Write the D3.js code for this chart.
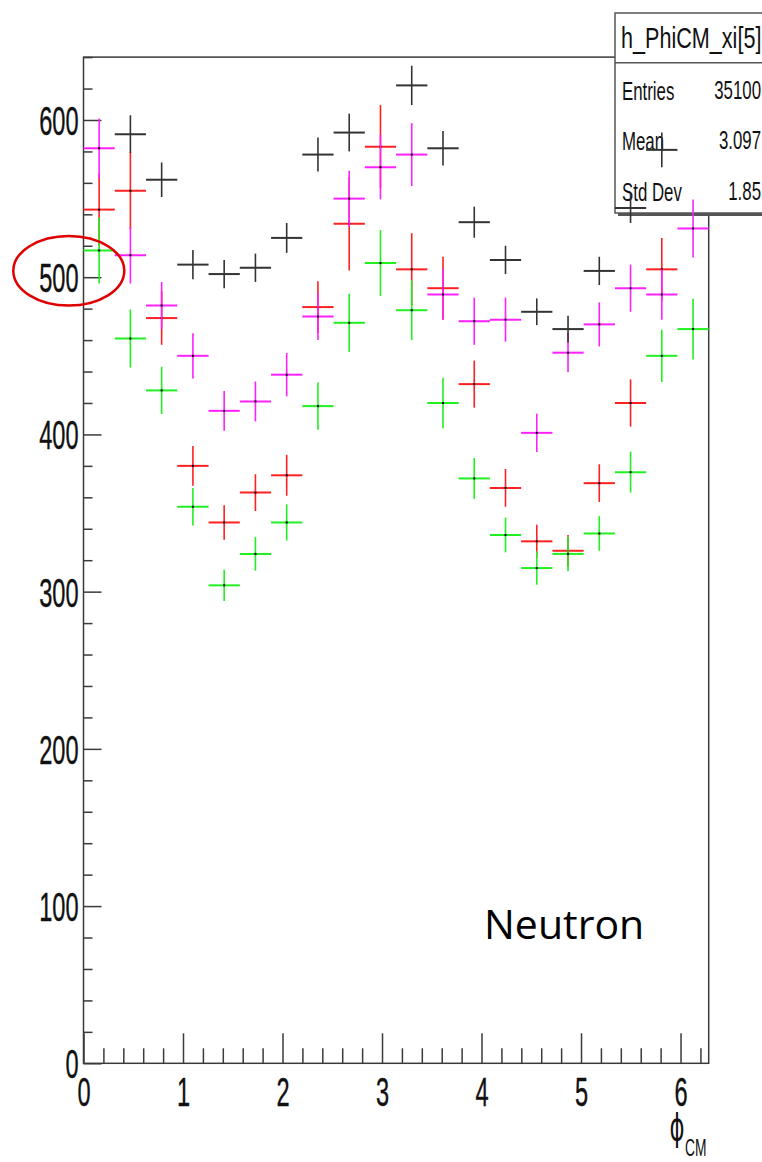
<!DOCTYPE html>
<html>
<head>
<meta charset="utf-8">
<script src="https://cdn.jsdelivr.net/npm/d3@7"></script>
<style>
body { margin: 0; background: #fff; }
</style>
</head>
<body>
<svg width="762" height="1162"></svg>
<script>
// histogram h_PhiCM_xi[5], 20 bins over 0..2pi
var nBins = 20
var phiMax = 2 * Math.PI
var xTicks = [0, 1, 2, 3, 4, 5, 6]
var yTicks = [0, 100, 200, 300, 400, 500, 600]

// bin contents and errors (null = not visible)
var blackVals = [null, 591, 562, 508, 502, 506, 525, 578, 592, null, 622, 582, 535, 511, 478, 467, 504, 544, 581, null]
var blackErr  = [null, 12, 11, 9.3, 9, 9, 9.5, 10.8, 12, null, 12.5, 11, 9.9, 9, 8.5, 8.5, 9, 9.5, 11, null]
var redVals   = [543, 555, 474, 380, 344, 363, 374, 481, 534, 583, 505, 493, 432, 366, 332, 326, 369, 420, 505, null]
var redErr    = [23, 24.5, 17, 12.7, 11, 11.7, 13, 16.5, 29.7, 26.5, 23, 20, 15, 12, 10.6, 10, 12, 15, 20, null]
var magVals   = [582, 514, 482, 450, 415, 421, 438, 475, 550, 570, 578, 489, 472, 473, 401, 452, 470, 493, 489, 531]
var magErr    = [19, 18, 15, 14.4, 12.7, 12.7, 13.8, 15, 17.8, 20.5, 20, 16, 15, 14, 12.2, 12.5, 14, 15, 16, 18.5]
var greenVals = [517, 461, 428, 354, 304, 324, 344, 418, 471, 509, 479, 420, 372, 336, 315, 324, 337, 376, 450, 467]
var greenErr  = [21, 18.5, 15, 12, 10, 10.7, 11.5, 15, 18.5, 21, 19, 16, 13, 11, 10.6, 11, 11, 13, 16.6, 19.3]

var statNames  = ['Entries', 'Mean', 'Std Dev']
var statValues = ['35100', '3.097', '1.85']

var svg = d3.select('svg')
var x = d3.scaleLinear().domain([0, phiMax]).range([83.5, 708.7])
var y = d3.scaleLinear().domain([0, 640]).range([1063.3, 57.1])
var binW = phiMax / nBins

var axisCol = '#3a3a3a'
var tickFont = 'Liberation Sans, Arial, sans-serif'

// squeezed text like the ROOT canvas
function sqText(px, py, str, size, sx, anchor, family) {
    var g = svg.append('g').attr('transform', 'translate(' + px + ',' + py + ')')
    g.append('text')
	.attr('transform', 'scale(' + sx + ',1)')
	.attr('text-anchor', anchor || 'start')
	.style('font-family', family || tickFont)
	.style('font-size', size + 'px')
	.attr('fill', '#111')
	.text(str)
    return g
}

// frame
svg.append('rect')
    .attr('x', x(0)).attr('y', y(640))
    .attr('width', x(phiMax) - x(0)).attr('height', y(0) - y(640))
    .attr('fill', 'none').attr('stroke', axisCol).attr('stroke-width', 1.5)

// y axis
var yMinor = d3.range(0, 641, 20).filter(function(v) { return v % 100 != 0 })
svg.append('g').attr('transform', 'translate(' + x(0) + ',0)')
    .call(d3.axisLeft(y).tickValues(yMinor).tickSize(-9).tickFormat(''))
svg.append('g').attr('class', 'yaxis').attr('transform', 'translate(' + x(0) + ',0)')
    .call(d3.axisLeft(y).tickValues(yTicks).tickSize(-18).tickPadding(5).tickFormat(d3.format('d')))

// x axis
var xMinor = d3.range(1, 32).map(function(i) { return i * 0.2 }).filter(function(v) { return Math.abs(v - Math.round(v)) > 0.01 })
svg.append('g').attr('transform', 'translate(0,' + y(0) + ')')
    .call(d3.axisBottom(x).tickValues(xMinor).tickSize(-15).tickFormat(''))
svg.append('g').attr('class', 'xaxis').attr('transform', 'translate(0,' + y(0) + ')')
    .call(d3.axisBottom(x).tickValues(xTicks).tickSize(-30).tickPadding(14).tickFormat(d3.format('d')))

svg.selectAll('.domain').remove()
svg.selectAll('.tick line').attr('stroke', axisCol).attr('stroke-width', 1.5)
svg.selectAll('.yaxis text')
    .attr('transform', 'scale(0.59,1)').attr('x', -5 / 0.59).attr('dy', '0.36em')
svg.selectAll('.xaxis text')
    .attr('transform', 'scale(0.59,1)').attr('dy', '0.71em')
svg.selectAll('.tick text')
    .style('font-family', tickFont).style('font-size', '40px').attr('fill', '#111')
    .attr('stroke', '#111').attr('stroke-width', 0.4)

// axis title
sqText(677, 1140, '\u03d5', 38, 0.6, 'middle', 'DejaVu Sans, sans-serif')
sqText(685, 1156, 'CM', 23, 0.6, 'start')

// stats box
svg.append('rect').attr('x', 618).attr('y', 16).attr('width', 160).attr('height', 200).attr('fill', '#555')
svg.append('rect').attr('x', 615).attr('y', 13).attr('width', 160).attr('height', 200)
    .attr('fill', '#fff').attr('stroke', '#555').attr('stroke-width', 1.5)
svg.append('line').attr('x1', 615).attr('x2', 762).attr('y1', 62.7).attr('y2', 62.7)
    .attr('stroke', '#555').attr('stroke-width', 1.5)
sqText(621, 48, 'h_PhiCM_xi[5]', 30, 0.72, 'start')
var rowBase = [100, 150, 201]
statNames.forEach(function(s, i) {
    sqText(622, rowBase[i], s, 25.5, 0.66, 'start')
    sqText(761, rowBase[i] - 1, statValues[i], 25.5, 0.66, 'end')
})

// error crosses
function drawSeries(vals, errs, col, dot) {
    var g = svg.append('g')
    vals.forEach(function(v, i) {
	if (v == null) return
	var c = (i + 0.5) * binW
	g.append('line')
	    .attr('x1', x(c - binW / 2)).attr('x2', x(c + binW / 2))
	    .attr('y1', y(v)).attr('y2', y(v))
	    .attr('stroke', col).attr('stroke-width', 2)
	g.append('line')
	    .attr('x1', x(c)).attr('x2', x(c))
	    .attr('y1', y(v - errs[i])).attr('y2', y(v + errs[i]))
	    .attr('stroke', col).attr('stroke-width', 1.6)
	if (dot) {
	    g.append('rect')
		.attr('x', x(c) - 1).attr('y', y(v) - 1)
		.attr('width', 2).attr('height', 2).attr('fill', '#000')
	}
    })
}
drawSeries(redVals, redErr, '#ff2020', true)
drawSeries(magVals, magErr, '#ff20ff', true)
drawSeries(greenVals, greenErr, '#20f020', true)
drawSeries(blackVals, blackErr, '#333', false)

// annotations
svg.append('ellipse')
    .attr('cx', 68.8).attr('cy', 270.8).attr('rx', 55.5).attr('ry', 34.8)
    .attr('fill', 'none').attr('stroke', '#e00000').attr('stroke-width', 2.5)
svg.append('text')
    .attr('x', 484).attr('y', 939)
    .style('font-family', 'Open Sans, sans-serif').style('font-size', '41px')
    .attr('fill', '#000')
    .text('Neutron')
</script>
</body>
</html>
